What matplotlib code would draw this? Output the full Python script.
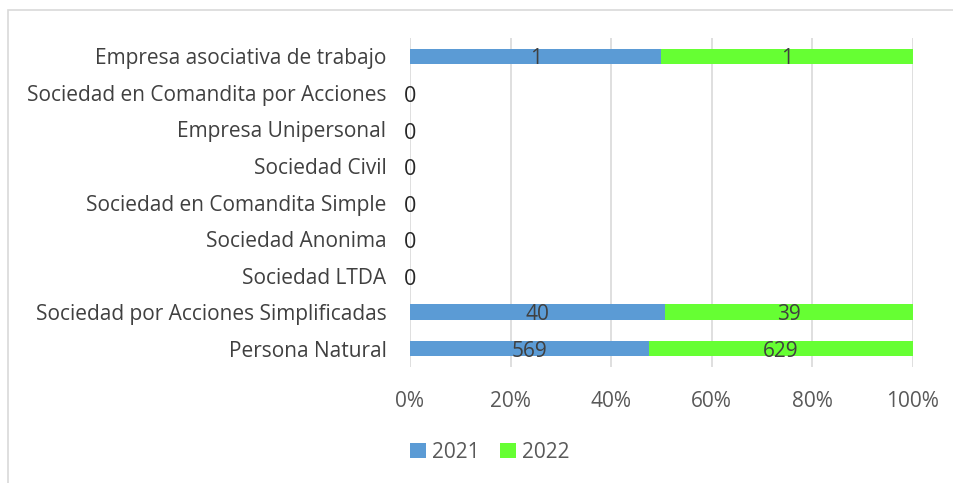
import matplotlib
matplotlib.use("Agg")
import matplotlib.pyplot as plt
from matplotlib.patches import Rectangle
import numpy as np

categories = [
    "Empresa asociativa de trabajo",
    "Sociedad en Comandita por Acciones",
    "Empresa Unipersonal",
    "Sociedad Civil",
    "Sociedad en Comandita Simple",
    "Sociedad Anonima",
    "Sociedad LTDA",
    "Sociedad por Acciones Simplificadas",
    "Persona Natural",
]
values_2021 = [1, 0, 0, 0, 0, 0, 0, 40, 569]
values_2022 = [1, 0, 0, 0, 0, 0, 0, 39, 629]
series_names = ["2021", "2022"]
tick_labels = ["0%", "20%", "40%", "60%", "80%", "100%"]

colors = ["#5b9bd5", "#66ff33"]
plt.rcParams["font.family"] = ["Open Sans", "DejaVu Sans"]
FS = 15

fig = plt.figure(figsize=(9.54, 4.83), dpi=100)
ax = fig.add_axes([410/954, 1-367/483, (913-410)/954, (367-38)/483])

a = np.array(values_2021, dtype=float)
b = np.array(values_2022, dtype=float)
tot = a + b
with np.errstate(invalid="ignore", divide="ignore"):
    pa = np.where(tot > 0, a / tot, 0)
    pb = np.where(tot > 0, b / tot, 0)

y = np.arange(len(categories))
h = 0.42
ax.barh(y, pa, height=h, color=colors[0], label=series_names[0], zorder=3)
ax.barh(y, pb, left=pa, height=h, color=colors[1], label=series_names[1], zorder=3)

for i in range(len(categories)):
    if tot[i] > 0:
        ax.text(pa[i]/2, y[i] + 0.07, f"{int(a[i])}", ha="center", va="center",
                fontsize=FS, color="#404040", zorder=4)
        ax.text(pa[i] + pb[i]/2, y[i] + 0.07, f"{int(b[i])}", ha="center", va="center",
                fontsize=FS, color="#404040", zorder=4)
    else:
        ax.text(0, y[i] + 0.1, "0", ha="center", va="center",
                fontsize=FS + 0.5, color="#262626", zorder=4)

ax.set_ylim(len(categories) - 0.5, -0.5)
ax.set_xlim(0, 1)
ax.set_xticks(np.linspace(0, 1, len(tick_labels)))
ax.set_xticklabels(tick_labels, fontsize=FS, color="#595959")
ax.set_yticks(y)
ax.set_yticklabels(categories, fontsize=FS, color="#404040")
ax.tick_params(axis="both", length=0)
ax.tick_params(axis="x", pad=17)
ax.tick_params(axis="y", pad=17)
ax.grid(axis="x", color="#d9d9d9", linewidth=1.2, zorder=0)
for s in ax.spines.values():
    s.set_visible(False)

fig.legend(loc="center", bbox_to_anchor=(490/954, 1-452/483), ncol=2,
           frameon=False, fontsize=FS, handlelength=0.75, handleheight=0.75,
           handletextpad=0.3, columnspacing=1.0, labelcolor="#595959")

fig.patches.append(Rectangle((8/954, -0.1), 1.2, 1-10/483+0.1, transform=fig.transFigure,
                             fill=False, edgecolor="#d9d9d9", linewidth=1.2))

fig.savefig("out.png", dpi=100)
